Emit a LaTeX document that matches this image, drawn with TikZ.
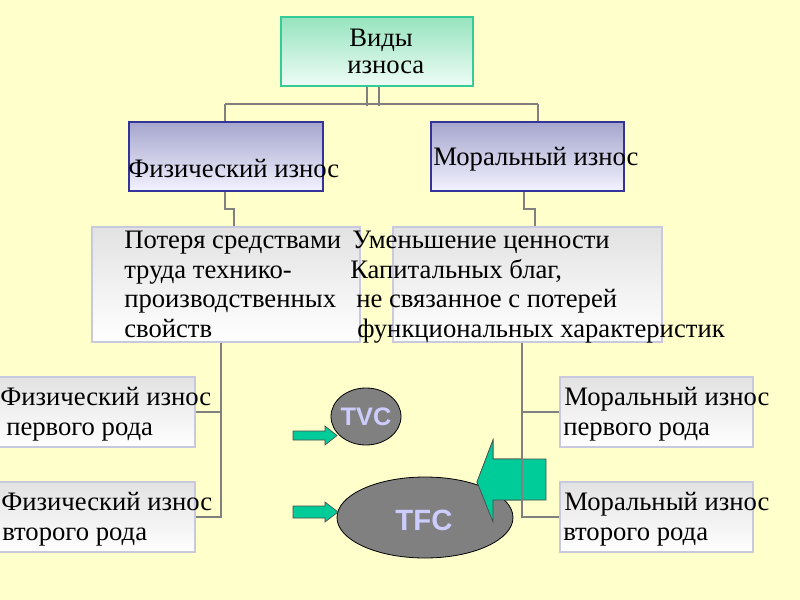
\documentclass[tikz,border=0pt]{standalone}
\usepackage{fontspec}
\setmainfont{Liberation Serif}
\newfontfamily\arialfont{Liberation Sans}
\usetikzlibrary{calc,shapes.geometric}
\definecolor{bgyellow}{RGB}{255,255,204}
\definecolor{conn}{RGB}{128,128,128}
\definecolor{topgreen}{RGB}{150,228,190}
\definecolor{topbottom}{RGB}{238,252,246}
\definecolor{topborder}{RGB}{51,204,153}
\definecolor{lavtop}{RGB}{166,166,206}
\definecolor{lavbottom}{RGB}{242,242,255}
\definecolor{lavborder}{RGB}{51,51,153}
\definecolor{graytop}{RGB}{226,226,226}
\definecolor{graybottom}{RGB}{255,255,255}
\definecolor{grayborder}{RGB}{200,200,222}
\definecolor{arrowgreen}{RGB}{0,204,153}
\definecolor{ellgray}{RGB}{128,128,128}
\definecolor{elltext}{RGB}{204,204,255}
\tikzset{
  boxbase/.style={rectangle, inner sep=0pt, line width=0.8pt},
  topbox/.style={boxbase, draw=topborder, top color=topgreen, bottom color=topbottom},
  lavbox/.style={boxbase, draw=lavborder, top color=lavtop, bottom color=lavbottom},
  graybox/.style={boxbase, draw=grayborder, top color=graytop, bottom color=graybottom},
  txt/.style={anchor=base west, inner sep=0pt, font=\fontsize{20}{24}\selectfont, text=black},
  connector/.style={draw=conn, line width=1.5pt},
  greenarrow/.style={fill=arrowgreen, draw=black!70, line width=0.5pt},
  ell/.style={ellipse, fill=ellgray, draw=black, line width=0.6pt, inner sep=0pt},
  elltxt/.style={text=elltext, font=\arialfont\bfseries}
}
\begin{document}
\begin{tikzpicture}[x=0.75pt,y=-0.75pt]
\fill[bgyellow] (0,0) rectangle (800,600);
\useasboundingbox (0,0) rectangle (800,600);

% boxes
\node[topbox, minimum width=192*0.75pt, minimum height=69*0.75pt] (top) at (377,51.5) {};
\node[lavbox, minimum width=194*0.75pt, minimum height=69*0.75pt] (phys) at (226,156.5) {};
\node[lavbox, minimum width=193*0.75pt, minimum height=69*0.75pt] (moral) at (527.5,156.5) {};
\node[graybox, minimum width=268*0.75pt, minimum height=115*0.75pt] (loss) at (226,284.5) {};
\node[graybox, minimum width=269*0.75pt, minimum height=115*0.75pt] (value) at (527.5,284.5) {};
\node[graybox, minimum width=196*0.75pt, minimum height=70*0.75pt] (ph1) at (97,412) {};
\node[graybox, minimum width=196*0.75pt, minimum height=70*0.75pt] (ph2) at (97,517) {};
\node[graybox, minimum width=193*0.75pt, minimum height=70*0.75pt] (mo1) at (656.5,412) {};
\node[graybox, minimum width=193*0.75pt, minimum height=70*0.75pt] (mo2) at (656.5,517) {};

% connectors
\coordinate (hl) at ($(phys.north)+(-1,-17)$);
\coordinate (hr) at ($(moral.north)+(10.5,-17)$);
\draw[connector] ($(top.south)+(-10,0)$) -- ($(top.south)+(-10,19)$);
\draw[connector] ($(top.south)+(2,0)$) -- ($(top.south)+(2,19)$);
\draw[connector] (hl) -- (hr);
\draw[connector] (hl) -- ($(phys.north)+(-1,0)$);
\draw[connector] (hr) -- ($(moral.north)+(10.5,0)$);
\draw[connector] ($(phys.south)+(-1,0)$) -- ++(0,17) -| ($(loss.north)+(8,0)$);
\draw[connector] ($(moral.south)+(-3.5,0)$) -- ++(0,17) -| ($(value.north)+(7.5,0)$);

% big arrow (under right connector)
\draw[greenarrow] (477,482) -- (493,440) -- (493,459) -- (546,459) -- (546,500) -- (493,500) -- (493,522) -- cycle;

\coordinate (lb) at ($(loss.south)+(-5,0)$);
\coordinate (rb) at ($(value.south)+(-5.5,0)$);
\draw[connector] (lb) |- (ph2.east);
\draw[connector] (lb |- ph1.east) -- (ph1.east);
\draw[connector] (rb) |- (mo2.west);
\draw[connector] (rb |- mo1.west) -- (mo1.west);

% texts
\node[txt] (t1) at (349,46) {Виды};
\node[txt] (t2) at (347,73) {износа};
\node[txt] (tp) at (128,177) {Физический износ};
\node[txt] (tm) at (433,165) {Моральный износ};
\node[txt] (l1) at (124,248) {Потеря средствами};
\node[txt] (l2) at (124,278) {труда технико-};
\node[txt] (l3) at (124,307) {производственных};
\node[txt] (l4) at (124,337) {свойств};
\node[txt] (v1) at (352,248) {Уменьшение ценности};
\node[txt] (v2) at (350,278) {Капитальных благ,};
\node[txt] (v3) at (356,307) {не связанное с потерей};
\node[txt] (v4) at (357,337) {функциональных характеристик};
\node[txt] (p11) at (0,405) {Физический износ};
\node[txt] (p12) at (6,435) {первого рода};
\node[txt] (p21) at (1,510) {Физический износ};
\node[txt] (p22) at (2,540) {второго рода};
\node[txt] (m11) at (564,405) {Моральный износ};
\node[txt] (m12) at (563,435) {первого рода};
\node[txt] (m21) at (564,510) {Моральный износ};
\node[txt] (m22) at (563,540) {второго рода};

% ellipses
\node[ell, minimum width=70*0.75pt, minimum height=57*0.75pt] (tvc) at (366,416.5) {};
\node[elltxt, font=\arialfont\bfseries\fontsize{19}{22}\selectfont] (tvct) at (366,417) {TVC};
\node[ell, minimum width=176*0.75pt, minimum height=81*0.75pt] (tfc) at (425,517.5) {};
\node[elltxt, font=\arialfont\bfseries\fontsize{22}{26}\selectfont] (tfct) at (424,520) {TFC};

% big arrow tip over TFC ellipse
\begin{scope}
\clip (470,430) rectangle (521,530);
\draw[greenarrow] (477,482) -- (493,440) -- (493,459) -- (546,459) -- (546,500) -- (493,500) -- (493,522) -- cycle;
\end{scope}

% small arrows
\draw[greenarrow] (293,431) -- (325,431) -- (325,426) -- (337,435.5) -- (325,445) -- (325,440) -- (293,440) -- cycle;
\draw[greenarrow] (293,506) -- (325,506) -- (325,502) -- (338,512) -- (325,522) -- (325,518) -- (293,518) -- cycle;
\end{tikzpicture}
\end{document}
